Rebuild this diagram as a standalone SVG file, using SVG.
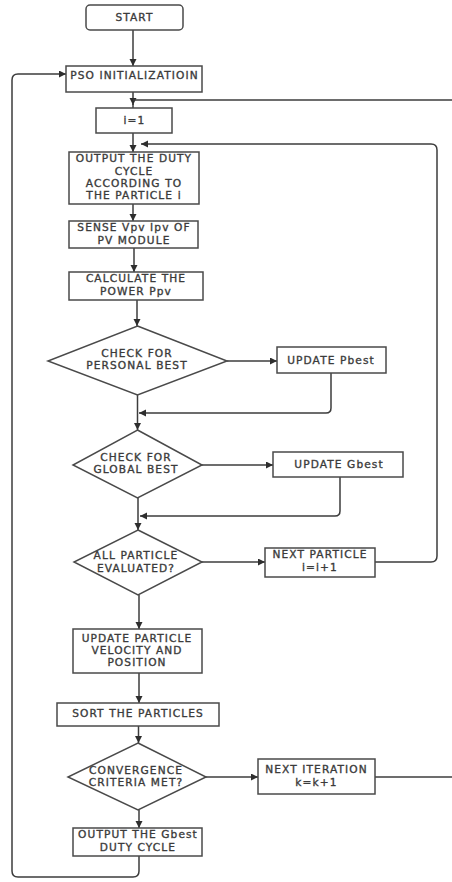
<svg xmlns="http://www.w3.org/2000/svg" width="452" height="882" viewBox="0 0 452 882">
  <style>
    .box { fill: #ffffff; stroke: #4a4a4a; stroke-width: 1.5; }
    .wire { fill: none; stroke: #3c3c3c; stroke-width: 1.5; }
    .arrow { marker-end: url(#head); }
    text { font-family: "DejaVu Sans", "Liberation Sans", sans-serif; font-size: 10.6px; letter-spacing: 1.1px; fill: #333333; stroke: #444444; stroke-width: 0.35px; text-anchor: middle; }
  </style>
  <defs>
    <marker id="head" markerUnits="userSpaceOnUse" markerWidth="8" markerHeight="8" refX="7" refY="3.5" orient="auto">
      <path d="M0,0 L7,3.5 L0,7 z" fill="#2e2e2e"/>
    </marker>
  </defs>

  <rect width="452" height="882" fill="#ffffff"/>

  <!-- connectors -->
  <g id="connectors">
    <path class="wire arrow" d="M133,30 V66"/>
    <path class="wire arrow" d="M133,92 V105"/>
    <path class="wire" d="M133,104 V108"/>
    <path class="wire" d="M452,100 H133"/>
    <path class="wire arrow" d="M133,133 V152"/>
    <path class="wire arrow" d="M133,204 V221"/>
    <path class="wire arrow" d="M134,248 V272"/>
    <path class="wire arrow" d="M137,300 V326"/>
    <path class="wire arrow" d="M137.5,395 V430"/>
    <path class="wire arrow" d="M138,498 V530"/>
    <path class="wire arrow" d="M139,595 V629"/>
    <path class="wire arrow" d="M139,673 V703"/>
    <path class="wire arrow" d="M138.5,726 V743"/>
    <path class="wire arrow" d="M139,810 V828"/>

    <!-- branch outputs -->
    <path class="wire arrow" d="M227,361 H277"/>
    <path class="wire arrow" d="M202,465 H273"/>
    <path class="wire arrow" d="M202,562 H265"/>
    <path class="wire arrow" d="M206,777 H258"/>

    <!-- merges back into main line -->
    <path class="wire arrow" d="M331,373 V408 Q331,413 326,413 H139"/>
    <path class="wire arrow" d="M340,477 V511 Q340,516 335,516 H140"/>

    <!-- next particle loop -->
    <path class="wire arrow" d="M375,562 H431 Q437,562 437,556 V150 Q437,144 431,144 H141"/>

    <!-- next iteration exits right -->
    <path class="wire" d="M375,777 H452"/>

    <!-- restart loop to PSO initialization -->
    <path class="wire arrow" d="M139,856 V871 Q139,877 133,877 H18 Q12,877 12,871 V80 Q12,74 18,74 H66"/>
  </g>

  <g id="start">
    <rect class="box" x="86" y="5" width="97" height="25" rx="4"/>
    <text x="134.5" y="21">START</text>
  </g>

  <g id="pso-init">
    <rect class="box" x="66" y="66" width="136" height="26"/>
    <text x="134.5" y="78.5">PSO INITIALIZATIOIN</text>
  </g>

  <g id="i-one">
    <rect class="box" x="96" y="108" width="76" height="25"/>
    <text x="134.5" y="124">i=1</text>
  </g>

  <g id="output-duty">
    <rect class="box" x="69" y="152" width="130" height="52"/>
    <text x="134" y="162">OUTPUT THE DUTY</text>
    <text x="134" y="174.5">CYCLE</text>
    <text x="134" y="187">ACCORDING TO</text>
    <text x="134" y="199">THE PARTICLE i</text>
  </g>

  <g id="sense">
    <rect class="box" x="69" y="221" width="129" height="27"/>
    <text x="134" y="231">SENSE Vpv Ipv OF</text>
    <text x="134" y="243.5">PV MODULE</text>
  </g>

  <g id="calc-power">
    <rect class="box" x="69" y="272" width="134" height="28"/>
    <text x="136" y="282">CALCULATE THE</text>
    <text x="136" y="294.5">POWER Ppv</text>
  </g>

  <g id="check-personal">
    <polygon class="box" points="137.5,326 227,361 137.5,395 48,361"/>
    <text x="137" y="356.5">CHECK FOR</text>
    <text x="137" y="368.5">PERSONAL BEST</text>
  </g>

  <g id="update-pbest">
    <rect class="box" x="277" y="347" width="109" height="26"/>
    <text x="331" y="364">UPDATE Pbest</text>
  </g>

  <g id="check-global">
    <polygon class="box" points="137.5,430 202,465 137.5,498 73,465"/>
    <text x="136" y="460.5">CHECK FOR</text>
    <text x="136" y="472.5">GLOBAL BEST</text>
  </g>

  <g id="update-gbest">
    <rect class="box" x="273" y="452" width="130" height="25"/>
    <text x="339" y="468">UPDATE Gbest</text>
  </g>

  <g id="all-evaluated">
    <polygon class="box" points="138,530 202,562 138,595 74,562"/>
    <text x="136" y="559">ALL PARTICLE</text>
    <text x="136" y="571.5">EVALUATED?</text>
  </g>

  <g id="next-particle">
    <rect class="box" x="265" y="548" width="110" height="29"/>
    <text x="320" y="558">NEXT PARTICLE</text>
    <text x="320" y="570.5">i=i+1</text>
  </g>

  <g id="update-velocity">
    <rect class="box" x="73" y="629" width="129" height="44"/>
    <text x="137" y="641.5">UPDATE PARTICLE</text>
    <text x="137" y="654">VELOCITY AND</text>
    <text x="137" y="666">POSITION</text>
  </g>

  <g id="sort">
    <rect class="box" x="57" y="703" width="162" height="23"/>
    <text x="138" y="717">SORT THE PARTICLES</text>
  </g>

  <g id="convergence">
    <polygon class="box" points="138,743 206,777 138,810 68,777"/>
    <text x="136" y="773.5">CONVERGENCE</text>
    <text x="136" y="785.5">CRITERIA MET?</text>
  </g>

  <g id="next-iteration">
    <rect class="box" x="258" y="759" width="117" height="35"/>
    <text x="316.5" y="773">NEXT ITERATION</text>
    <text x="316.5" y="785.5">k=k+1</text>
  </g>

  <g id="output-gbest">
    <rect class="box" x="73" y="828" width="129" height="28"/>
    <text x="138" y="837.5">OUTPUT THE Gbest</text>
    <text x="138" y="851">DUTY CYCLE</text>
  </g>
</svg>
